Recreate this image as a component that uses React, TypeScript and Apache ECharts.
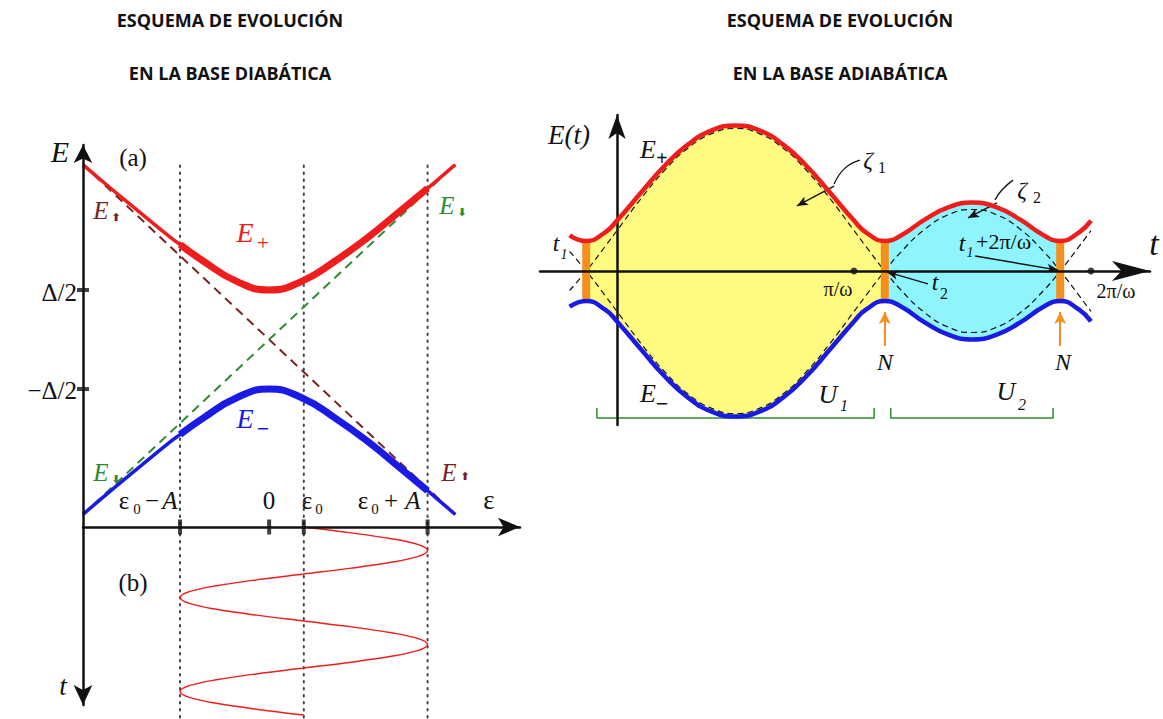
import { useEffect, useRef } from 'react';
import * as echarts from 'echarts';

// ---------- Panel (a): energy levels against the bias ε (units with Δ/2 = 1.5) ----------
const epsLevels = [-5.64, -5, -4, -3, -2.7, -2, -1, 0, 1, 2, 3, 4, 4.8, 5, 5.64];
const eUpperLevel = [5.3, 4.75, 3.92, 3.1, 2.88, 2.38, 1.77, 1.5, 1.77, 2.38, 3.1, 3.92, 4.58, 4.75, 5.3];
const eLowerLevel = [-5.3, -4.75, -3.92, -3.1, -2.88, -2.38, -1.77, -1.5, -1.77, -2.38, -3.1, -3.92, -4.58, -4.75, -5.3];
const epsDiabatic = [-5.64, 5.64];
const eSpinUp = [5.3, -5.3];
const eSpinDown = [-5.3, 5.3];
const halfGapTicks = [1.5, -1.5];
const epsTicks = [-2.7, 0, 1.05, 4.8]; // ε0−A, 0, ε0, ε0+A
const sweepEdges = [-2.7, 1.05, 4.8];
const sweepFrom = 4; // index of ε0−A in epsLevels
const sweepTo = 12; // index of ε0+A in epsLevels

// ---------- Panel (b): the driving ε(t) = ε0 + A sin ωt, t downwards ----------
const tDrive = [0, 0.25, 0.5, 0.75, 1, 1.25, 1.5, 1.75, 2, 2.25, 2.5, 2.75, 3, 3.25, 3.5, 3.75, 4,
  4.25, 4.5, 4.75, 5, 5.25, 5.5, 5.75, 6, 6.25, 6.5, 6.75, 7, 7.25, 7.5, 7.75, 8];
const epsDrive = [1.05, 2.49, 3.7, 4.52, 4.8, 4.52, 3.7, 2.49, 1.05, -0.39, -1.6, -2.42, -2.7, -2.42, -1.6, -0.39, 1.05,
  2.49, 3.7, 4.52, 4.8, 4.52, 3.7, 2.49, 1.05, -0.39, -1.6, -2.42, -2.7, -2.42, -1.6, -0.39, 1.05];

// ---------- Adiabatic basis: E(t) in units of Δ/2, t in units of π/ω ----------
const tAdiab = [-0.2, -0.13, -0.05, 0, 0.1, 0.2, 0.3, 0.4, 0.5, 0.6, 0.7, 0.8, 0.9, 1.0, 1.05, 1.13, 1.2,
  1.3, 1.4, 1.5, 1.6, 1.7, 1.8, 1.87, 1.95, 2.0];
const ePlusT = [1.19, 1.0, 1.29, 1.68, 2.6, 3.5, 4.22, 4.69, 4.85, 4.69, 4.22, 3.5, 2.6, 1.68, 1.29, 1.0, 1.19,
  1.72, 2.13, 2.28, 2.13, 1.72, 1.19, 1.0, 1.29, 1.68];
const eMinusT = [-1.19, -1.0, -1.29, -1.68, -2.6, -3.5, -4.22, -4.69, -4.85, -4.69, -4.22, -3.5, -2.6, -1.68, -1.29, -1.0, -1.19,
  -1.72, -2.13, -2.28, -2.13, -1.72, -1.19, -1.0, -1.29, -1.68];
const eDiabT = [-0.65, 0, 0.82, 1.35, 2.4, 3.35, 4.1, 4.58, 4.75, 4.58, 4.1, 3.35, 2.4, 1.35, 0.82, 0, -0.65,
  -1.4, -1.88, -2.05, -1.88, -1.4, -0.65, 0, 0.82, 1.35];
const eDiabNegT = [0.65, 0, -0.82, -1.35, -2.4, -3.35, -4.1, -4.58, -4.75, -4.58, -4.1, -3.35, -2.4, -1.35, -0.82, 0, 0.65,
  1.4, 1.88, 2.05, 1.88, 1.4, 0.65, 0, -0.82, -1.35];
const crossings = [-0.13, 1.13, 1.87]; // t1, t2, t1 + 2π/ω
const gapAtCrossing = 1.07;
const periodMarks = [1, 2]; // π/ω, 2π/ω
const yellowFrom = 1; // index of t1
const yellowTo = 15; // index of t2
const cyanTo = 23; // index of t1 + 2π/ω
const bracketU1 = [[-0.085, -4.57], [-0.085, -4.9], [1.085, -4.9], [1.085, -4.57]];
const bracketU2 = [[1.155, -4.57], [1.155, -4.9], [1.84, -4.9], [1.84, -4.57]];
const zeta1Leader = [[1.025, 3.7], [0.962, 3.43], [0.916, 2.9]];
const zeta2Leader = [[1.671, 3.03], [1.624, 2.7], [1.595, 2.37]];

const RED = '#f01d1d';
const BLUE = '#1a1ae6';
const BROWN = '#7a2222';
const GREEN = '#2e8b2e';
const ORANGE = '#f5901e';
const YELLOW = '#fffb80';
const CYAN = '#8ef4fd';
const INK = '#111111';
const SERIF = '"Liberation Serif", "DejaVu Serif", serif';
const SANS = '"Open Sans", "Noto Sans", sans-serif';
const SYMBOLS = '"DejaVu Sans", sans-serif';

const pairs = (xs: number[], ys: number[]) => xs.map((x, i) => [x, ys[i]]);

const line = (g: number, data: any[], color: string, width: number, extra: any = {}) => ({
  type: 'line',
  xAxisIndex: g,
  yAxisIndex: g,
  data,
  symbol: 'none',
  silent: true,
  animation: false,
  lineStyle: { color, width, ...(extra.lineStyle || {}) },
  ...Object.fromEntries(Object.entries(extra).filter(([k]) => k !== 'lineStyle')),
});

const txt = (x: number, y: number, text: string, font: string, fill = INK, align = 'center') => ({
  type: 'text',
  x,
  y,
  z: 100,
  silent: true,
  style: { text, font, fill, align, verticalAlign: 'middle', textAlign: align, textVerticalAlign: 'middle' },
});

const it = (size: number) => `italic ${size}px ${SERIF}`;
const rm = (size: number) => `${size}px ${SERIF}`;
const bd = (size: number) => `bold ${size}px ${SERIF}`;
const arrowFont = `bold 11px ${SYMBOLS}`;

function buildOption(): any {
  const hideAxis = { axisTick: { show: false }, axisLabel: { show: false }, splitLine: { show: false } };
  const axisLine = (symbolSize: number[], onZero = false, symbol = ['none', 'arrow']) => ({
    onZero,
    symbol,
    symbolSize,
    lineStyle: { color: INK, width: 2.5 },
  });

  const series: any[] = [];

  // ---- panel (a)
  series.push(line(0, pairs(epsDiabatic, eSpinUp), BROWN, 2, { lineStyle: { type: [9, 6] }, z: 2 }));
  series.push(line(0, pairs(epsDiabatic, eSpinDown), GREEN, 2, { lineStyle: { type: [9, 6] }, z: 2 }));
  series.push(line(0, pairs(epsLevels, eUpperLevel), RED, 3.5, { smooth: true, z: 3 }));
  series.push(line(0, pairs(epsLevels, eLowerLevel), BLUE, 3.5, { smooth: true, z: 3 }));
  series.push(line(0, pairs(epsLevels.slice(sweepFrom, sweepTo + 1), eUpperLevel.slice(sweepFrom, sweepTo + 1)), RED, 7, { smooth: true, z: 4 }));
  series.push(line(0, pairs(epsLevels.slice(sweepFrom, sweepTo + 1), eLowerLevel.slice(sweepFrom, sweepTo + 1)), BLUE, 7, { smooth: true, z: 4 }));
  sweepEdges.forEach((e) => {
    series.push(line(0, [[e, 5.27], [e, -5.68]], '#444', 2, { lineStyle: { type: [1.5, 5.5], cap: 'round' }, z: 1 }));
    series.push(line(1, [[e, 0], [e, 8.4]], '#444', 2, { lineStyle: { type: [1.5, 5.5], cap: 'round' }, z: 1, clip: false }));
  });
  series.push({
    type: 'scatter', xAxisIndex: 0, yAxisIndex: 0, silent: true, z: 6, clip: false,
    symbol: 'rect', symbolSize: [4, 15], itemStyle: { color: INK },
    data: epsTicks.map((e) => [e, -5.68]),
  });
  series.push({
    type: 'scatter', xAxisIndex: 0, yAxisIndex: 0, silent: true, z: 6, clip: false,
    symbol: 'rect', symbolSize: [12, 4], itemStyle: { color: INK },
    data: halfGapTicks.map((v) => [-5.64, v]),
  });

  // ---- panel (b)
  series.push(line(1, pairs(epsDrive, tDrive), RED, 1.5, { smooth: 0.35, clip: false, z: 3 }));

  // ---- adiabatic picture
  const segU = (a: number, b: number, ys: number[]) => pairs(tAdiab.slice(a, b + 1), ys.slice(a, b + 1));
  const fill = (data: any[], color: string) =>
    line(2, data, color, 0, { smooth: true, z: 1, lineStyle: { opacity: 0 }, areaStyle: { color, opacity: 1 } });
  series.push(fill(segU(yellowFrom, yellowTo, ePlusT), YELLOW));
  series.push(fill(segU(yellowFrom, yellowTo, eMinusT), YELLOW));
  series.push(fill(segU(yellowTo, cyanTo, ePlusT), CYAN));
  series.push(fill(segU(yellowTo, cyanTo, eMinusT), CYAN));
  series.push(line(2, pairs(tAdiab, eDiabT), INK, 1.2, { smooth: true, lineStyle: { type: [6, 4] }, z: 2 }));
  series.push(line(2, pairs(tAdiab, eDiabNegT), INK, 1.2, { smooth: true, lineStyle: { type: [6, 4] }, z: 2 }));
  crossings.forEach((t) => {
    series.push(line(2, [[t, -gapAtCrossing], [t, gapAtCrossing]], ORANGE, 8, { z: 3 }));
  });
  series.push(line(2, pairs(tAdiab, ePlusT), RED, 4.5, { smooth: true, z: 6 }));
  series.push(line(2, pairs(tAdiab, eMinusT), BLUE, 4.5, { smooth: true, z: 6 }));
  series.push({
    type: 'scatter', xAxisIndex: 2, yAxisIndex: 2, silent: true, z: 7,
    symbol: 'circle', symbolSize: 7, itemStyle: { color: INK },
    data: periodMarks.map((t) => [t, 0]),
  });
  series.push(line(2, bracketU1, GREEN, 1.5, { z: 3 }));
  series.push(line(2, bracketU2, GREEN, 1.5, { z: 3 }));
  series.push(line(2, zeta1Leader, INK, 1.3, { smooth: true, z: 8 }));
  series.push(line(2, zeta2Leader, INK, 1.3, { smooth: true, z: 8 }));
  series.push({
    type: 'line', xAxisIndex: 2, yAxisIndex: 2, silent: true, z: 8, symbol: 'none',
    data: [[0, 0]], lineStyle: { opacity: 0 },
    markLine: {
      silent: true, symbol: ['none', 'arrow'], symbolSize: [7, 11], label: { show: false },
      lineStyle: { color: INK, width: 1.4, type: 'solid' }, animation: false,
      data: [
        [{ coord: [0.916, 2.83] }, { coord: [0.759, 2.17] }],
        [{ coord: [1.603, 2.27] }, { coord: [1.481, 1.77] }],
        [{ coord: [1.312, -0.43] }, { coord: [1.139, -0.03] }],
        [{ coord: [1.511, 0.5] }, { coord: [1.861, 0.03] }],
      ],
    },
  });
  series.push({
    type: 'line', xAxisIndex: 2, yAxisIndex: 2, silent: true, z: 8, symbol: 'none',
    data: [[0, 0]], lineStyle: { opacity: 0 },
    markLine: {
      silent: true, symbol: ['none', 'arrow'], symbolSize: [9, 12], label: { show: false },
      lineStyle: { color: ORANGE, width: 2, type: 'solid' }, animation: false,
      data: crossings.slice(1).map((t) => [{ coord: [t, -2.5] }, { coord: [t, -1.37] }]),
    },
  });

  const graphics: any[] = [
    // titles
    txt(230, 20, 'ESQUEMA DE EVOLUCIÓN', `bold 18px ${SANS}`),
    txt(230, 73, 'EN LA BASE DIABÁTICA', `bold 18px ${SANS}`),
    txt(840, 20, 'ESQUEMA DE EVOLUCIÓN', `bold 18px ${SANS}`),
    txt(840, 73, 'EN LA BASE ADIABÁTICA', `bold 18px ${SANS}`),
    // panel (a)
    txt(60, 151, 'E', it(30)),
    txt(133, 157, '(a)', rm(25)),
    txt(77, 292, 'Δ/2', rm(25), INK, 'right'),
    txt(77, 390, '−Δ/2', rm(25), INK, 'right'),
    txt(245, 232, 'E', it(28), RED),
    txt(263, 242, '+', rm(22), RED),
    txt(245, 418, 'E', it(28), BLUE),
    txt(263, 428, '−', bd(22), BLUE),
    txt(101, 210, 'E', it(25), BROWN),
    txt(116, 217, '⬆', arrowFont, BROWN),
    txt(447, 205, 'E', it(25), GREEN),
    txt(462, 212, '⬇', arrowFont, GREEN),
    txt(101, 472, 'E', it(25), GREEN),
    txt(116, 479, '⬇', arrowFont, GREEN),
    txt(449, 472, 'E', it(25), BROWN),
    txt(465, 476, '⬆', arrowFont, BROWN),
    txt(124, 500, 'ε', rm(25)),
    txt(137, 509, '0', rm(15)),
    txt(152, 500, '−', rm(25)),
    txt(170, 500, 'A', it(25)),
    txt(269, 500, '0', rm(25)),
    txt(307, 500, 'ε', rm(25)),
    txt(319, 509, '0', rm(15)),
    txt(363, 500, 'ε', rm(25)),
    txt(375, 509, '0', rm(15)),
    txt(391, 500, '+', rm(25)),
    txt(413, 500, 'A', it(25)),
    txt(489, 500, 'ε', rm(27)),
    txt(133, 582, '(b)', rm(25)),
    txt(63, 686, 't', it(27)),
    // adiabatic picture
    txt(569, 135, 'E(t)', it(27)),
    txt(648, 149, 'E', it(26)),
    txt(662, 158, '+', bd(20)),
    txt(648, 393, 'E', it(26)),
    txt(662, 403, '−', bd(22)),
    txt(868, 160, 'ζ', it(24)),
    txt(882, 167, '1', rm(16)),
    txt(1022, 190, 'ζ', it(24)),
    txt(1037, 197, '2', rm(16)),
    txt(556, 243, 't', it(24)),
    txt(564, 254, '1', it(14)),
    txt(1154, 243, 't', it(34)),
    txt(838, 289, 'π/ω', rm(20)),
    txt(1116, 291, '2π/ω', rm(20)),
    txt(935, 282, 't', it(24)),
    txt(944, 293, '2', rm(16)),
    txt(962, 243, 't', it(24)),
    txt(970, 252, '1', it(14)),
    txt(976, 241, '+2π/ω', rm(22), INK, 'left'),
    txt(885, 362, 'N', it(24)),
    txt(1063, 362, 'N', it(24)),
    txt(828, 394, 'U', it(26)),
    txt(844, 405, '1', it(16)),
    txt(1006, 391, 'U', it(26)),
    txt(1022, 404, '2', it(16)),
  ];

  return {
    animation: false,
    backgroundColor: '#ffffff',
    grid: [
      { left: 83, top: 145, width: 437, height: 382 },
      { left: 83, top: 527, width: 437, height: 178 },
      { left: 540, top: 115, width: 610, height: 310 },
    ],
    xAxis: [
      { gridIndex: 0, type: 'value', min: -5.64, max: 7.6, z: 5, axisLine: axisLine([14, 22]), ...hideAxis },
      { gridIndex: 1, type: 'value', min: -5.64, max: 7.6, show: false },
      { gridIndex: 2, type: 'value', min: -0.325, max: 2.249, z: 5, axisLine: axisLine([15, 38], true), ...hideAxis },
    ],
    yAxis: [
      { gridIndex: 0, type: 'value', min: -5.68, max: 5.894, z: 5, axisLine: axisLine([14, 18]), ...hideAxis },
      { gridIndex: 1, type: 'value', min: 0, max: 7.574, inverse: true, z: 5, axisLine: axisLine([14, 20], false, ['arrow', 'none']), ...hideAxis },
      { gridIndex: 2, type: 'value', min: -5.133, max: 5.2, z: 5, axisLine: axisLine([13, 24], true), ...hideAxis },
    ],
    series,
    graphic: { elements: graphics },
  };
}

export default function App() {
  const ref = useRef<HTMLDivElement>(null);
  useEffect(() => {
    if (!ref.current) return;
    const chart = echarts.init(ref.current, null, { renderer: 'svg' });
    chart.setOption(buildOption());
    return () => chart.dispose();
  }, []);
  return (
    <div
      ref={ref}
      style={{ position: 'fixed', left: 0, top: 0, width: 1163, height: 719, background: '#fff' }}
    />
  );
}
